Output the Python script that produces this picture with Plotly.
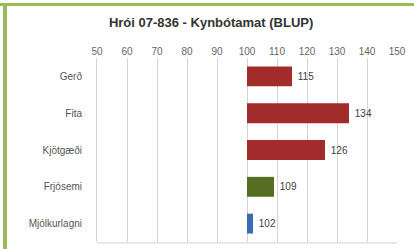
import plotly.graph_objects as go

categories = ["Gerð", "Fita", "Kjötgæði", "Frjósemi", "Mjólkurlagni"]
values = [115, 134, 126, 109, 102]
bar_colors = ["#A22B2B", "#A22B2B", "#A22B2B", "#566E22", "#3B6CB0"]
tick_vals = [50, 60, 70, 80, 90, 100, 110, 120, 130, 140, 150]
base_value = 100
title_text = "Hrói 07-836 - Kynbótamat (BLUP)"

fig = go.Figure()
fig.add_trace(go.Bar(
    y=categories,
    x=[v - base_value for v in values],
    base=[base_value] * len(values),
    orientation="h",
    marker=dict(color=bar_colors, line=dict(width=0)),
    text=["\u00a0" + str(v) for v in values],
    textposition="outside",
    textfont=dict(family="Liberation Sans, Arial", size=10, color="#404040"),
    cliponaxis=False,
    width=0.54,
    hoverinfo="skip",
))

fig.update_layout(
    width=414, height=249,
    margin=dict(l=97, r=17, t=58, b=7),
    paper_bgcolor="white",
    plot_bgcolor="white",
    showlegend=False,
    title=dict(text="<b>" + title_text + "</b>", x=0.51, xanchor="center",
               y=0.91, yanchor="middle",
               font=dict(family="Liberation Sans, Arial", size=13, color="#333333")),
    xaxis=dict(
        side="top", range=[50, 150], tickvals=tick_vals,
        showgrid=True, gridcolor="#D4D4D4", gridwidth=1,
        zeroline=False, showline=False, ticks="",
        tickfont=dict(family="Liberation Sans, Arial", size=10, color="#666666"),
        fixedrange=True,
    ),
    yaxis=dict(
        autorange="reversed", showgrid=False, zeroline=False,
        showline=True, linecolor="#D4D4D4", mirror=False,
        ticks="", ticklabelstandoff=12,
        tickfont=dict(family="Liberation Sans, Arial", size=10, color="#555555"),
        fixedrange=True,
    ),
    shapes=[
        dict(type="line", xref="paper", yref="paper", x0=0, x1=1, y0=-0.005, y1=-0.005,
             line=dict(color="#D4D4D4", width=1)),
        dict(type="rect", xref="paper", yref="paper",
             x0=-97/300, x1=(414-97)/300, y0=1 + 52/184, y1=1 + 55/184,
             fillcolor="#9BBB59", line=dict(width=0), layer="above"),
        dict(type="rect", xref="paper", yref="paper",
             x0=-94/300, x1=-90/300, y0=-7/184, y1=1 + 55/184,
             fillcolor="#9BBB59", line=dict(width=0), layer="above"),
    ],
)

fig.write_html("out.html", config={"displayModeBar": False},
               post_script="document.body.style.margin='0px';")
